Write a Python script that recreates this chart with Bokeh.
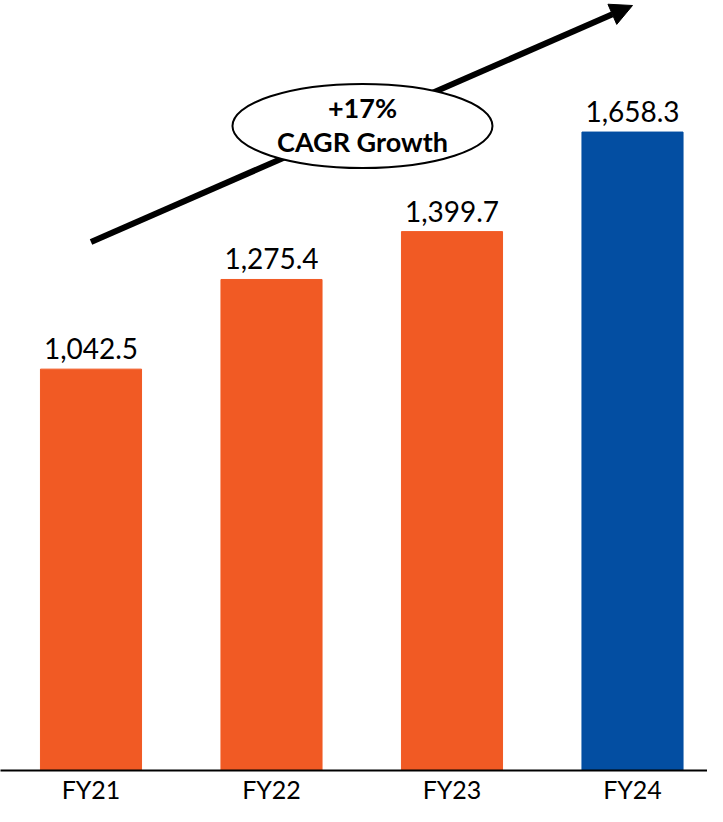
from bokeh.plotting import figure
from bokeh.models import Range1d, FixedTicker, Arrow, NormalHead, ColumnDataSource, Label, LabelSet
from bokeh.embed import file_html
from bokeh.resources import INLINE
from bokeh.core.properties import value

categories = ["FY21", "FY22", "FY23", "FY24"]
revenue = [1042.5, 1275.4, 1399.7, 1658.3]
labels = ["1,042.5", "1,275.4", "1,399.7", "1,658.3"]
colors = ["#F15A24", "#F15A24", "#F15A24", "#034EA2"]
cagr_text = ["+17%", "CAGR Growth"]

x = list(range(len(categories)))
src = ColumnDataSource(dict(x=x, top=revenue, lab=labels, color=colors))

p = figure(width=707, height=806, output_backend="svg", toolbar_location=None,
           x_range=Range1d(-0.5014, 3.4155), y_range=Range1d(0, 2000),
           min_border_left=0, min_border_right=0, min_border_top=0, min_border_bottom=34)
p.outline_line_color = None
p.grid.visible = False
p.yaxis.visible = False

p.vbar(x="x", top="top", width=0.56, color="color", source=src)
p.add_layout(LabelSet(x="x", y="top", text="lab", source=src, text_align="center",
                      text_baseline="alphabetic", y_offset=10, text_font=value("Lato"),
                      text_font_size=value("28px"), text_color=value("#000000")))

xa = p.xaxis[0]
xa.ticker = FixedTicker(ticks=x)
xa.major_label_overrides = {i: c for i, c in enumerate(categories)}
xa.major_tick_out = 0
xa.major_tick_in = 0
xa.major_tick_line_color = None
xa.minor_tick_line_color = None
xa.axis_line_color = "#000000"
xa.axis_line_width = 2
xa.major_label_text_font = "Lato"
xa.major_label_text_font_size = "25px"
xa.major_label_text_color = "#000000"
xa.major_label_standoff = 3

# growth arrow
p.add_layout(Arrow(x_start=0.0, y_start=1373, x_end=3.0, y_end=1987, level="underlay",
                   line_width=6, line_color="#000000",
                   end=NormalHead(size=22, fill_color="#000000", line_color="#000000")))
p.ellipse(x=[1.504], y=[1674], width=[260], height=[84], width_units="screen", height_units="screen",
          fill_color="#FFFFFF", line_color="#000000", line_width=2)
p.add_layout(Label(x=1.504, y=1674, text=cagr_text[0], text_align="center", text_baseline="middle",
                   y_offset=19, text_font="Lato", text_font_style="bold", text_font_size="27px",
                   text_color="#000000"))
p.add_layout(Label(x=1.504, y=1674, text=cagr_text[1], text_align="center", text_baseline="middle",
                   y_offset=-15, text_font="Lato", text_font_style="bold", text_font_size="27px",
                   text_color="#000000"))

open("out.html", "w").write(file_html(p, INLINE))
